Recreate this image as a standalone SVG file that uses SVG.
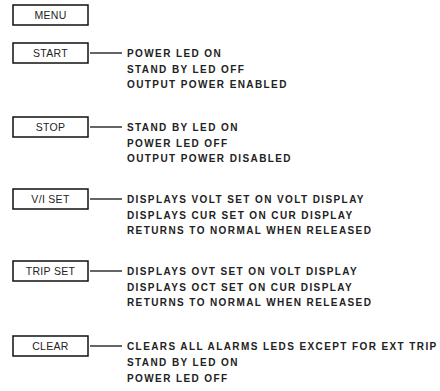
<svg xmlns="http://www.w3.org/2000/svg" width="440" height="391" viewBox="0 0 440 391">
<style>
.box{fill:#fff;stroke:#111;stroke-width:1.5}
.lbl{font-family:"Liberation Sans",Arial,sans-serif;font-size:10.5px;fill:#222;text-anchor:middle;letter-spacing:0.3px}
.txt{font-family:"Liberation Sans",Arial,sans-serif;font-size:10px;font-weight:bold;fill:#222;letter-spacing:1.4px}
.conn{stroke:#111;stroke-width:1.3;fill:none}
</style>
<rect width="440" height="391" fill="#fff"/>
<g id="menu"><rect class="box" x="13" y="5" width="75" height="20"/><text class="lbl" x="50.5" y="18.5">MENU</text></g>
<g id="start"><rect class="box" x="13" y="43" width="75" height="20"/><text class="lbl" x="50.5" y="56.5">START</text>
<text class="txt" x="127" y="57">POWER LED ON</text><text class="txt" x="127" y="72.5">STAND BY LED OFF</text><text class="txt" x="127" y="88">OUTPUT POWER ENABLED</text></g>
<g id="stop"><rect class="box" x="13" y="117" width="75" height="20"/><text class="lbl" x="50.5" y="130.5">STOP</text>
<text class="txt" x="127" y="131">STAND BY LED ON</text><text class="txt" x="127" y="146.5">POWER LED OFF</text><text class="txt" x="127" y="162">OUTPUT POWER DISABLED</text></g>
<g id="viset"><rect class="box" x="13" y="189" width="75" height="20"/><text class="lbl" x="50.5" y="202.5">V/I SET</text>
<text class="txt" x="127" y="203">DISPLAYS VOLT SET ON VOLT DISPLAY</text><text class="txt" x="127" y="218.5">DISPLAYS CUR SET ON CUR DISPLAY</text><text class="txt" x="127" y="234">RETURNS TO NORMAL WHEN RELEASED</text></g>
<g id="tripset"><rect class="box" x="13" y="261" width="75" height="20"/><text class="lbl" x="50.5" y="274.5">TRIP SET</text>
<text class="txt" x="127" y="275">DISPLAYS OVT SET ON VOLT DISPLAY</text><text class="txt" x="127" y="290.5">DISPLAYS OCT SET ON CUR DISPLAY</text><text class="txt" x="127" y="306">RETURNS TO NORMAL WHEN RELEASED</text></g>
<g id="clear"><rect class="box" x="13" y="336" width="75" height="20"/><text class="lbl" x="50.5" y="349.5">CLEAR</text>
<text class="txt" x="127" y="350">CLEARS ALL ALARMS LEDS EXCEPT FOR EXT TRIP</text><text class="txt" x="127" y="366">STAND BY LED ON</text><text class="txt" x="127" y="382">POWER LED OFF</text></g>
<g id="connectors">
<line class="conn" x1="90" y1="53" x2="122" y2="53"/>
<line class="conn" x1="90" y1="127" x2="122" y2="127"/>
<line class="conn" x1="90" y1="199" x2="122" y2="199"/>
<line class="conn" x1="90" y1="271" x2="122" y2="271"/>
<line class="conn" x1="90" y1="346" x2="122" y2="346"/>
</g>
</svg>
